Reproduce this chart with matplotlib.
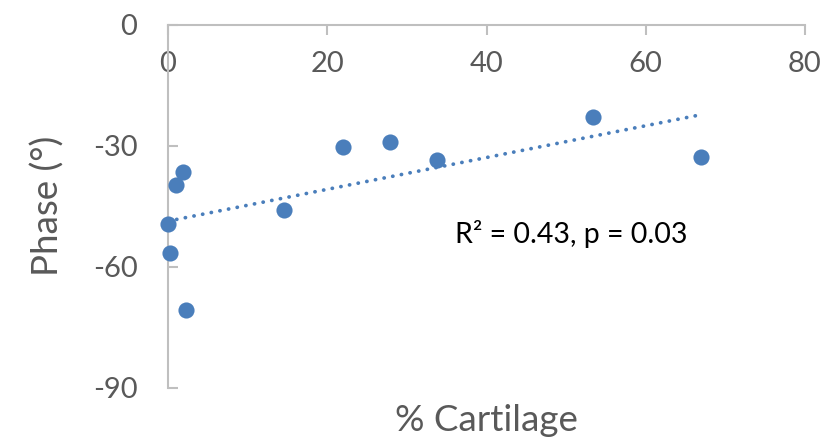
# phase vs % cartilage scatter with linear trendline

import numpy as np
import matplotlib
matplotlib.use('Agg')
import matplotlib.pyplot as plt

plt.rcParams['font.family'] = ['Lato', 'DejaVu Sans']
plt.rcParams['axes.unicode_minus'] = False

# data
cartilage = [0.0, 0.25, 1.0, 1.9, 2.3, 14.6, 22.0, 27.9, 33.8, 53.4, 67.0]
phase = [-49.4, -56.6, -39.7, -36.5, -70.7, -45.9, -30.3, -29.1, -33.5, -22.9, -32.8]

x_ticks = [0, 20, 40, 60, 80]
y_ticks = [-90, -60, -30, 0]
stats_text = 'R² = 0.43, p = 0.03'

blue = '#4A7EBB'
grey = '#BFBFBF'
label_grey = '#595959'

fig = plt.figure(figsize=(8.22, 4.41), dpi=100)
ax = fig.add_axes([0.2044, 0.1209, 0.7749, 0.8231])

ax.scatter(cartilage, phase, s=135, color=blue, zorder=3, linewidths=0, clip_on=False)

# linear trendline over the data range
k, b = np.polyfit(cartilage, phase, 1)
xt = np.array([min(cartilage), max(cartilage)])
ax.plot(xt, k * xt + b, color=blue, linewidth=2.7,
        linestyle=(0, (0.05, 2.3)), dash_capstyle='round', zorder=2)

ax.set_xlim(0, 80)
ax.set_ylim(-90, 0)
ax.set_xticks(x_ticks)
ax.set_yticks(y_ticks)

for side in ['right', 'bottom']:
    ax.spines[side].set_visible(False)
for side in ['left', 'top']:
    ax.spines[side].set_color(grey)
    ax.spines[side].set_linewidth(1.5)

ax.tick_params(axis='x', top=True, bottom=False, labeltop=True, labelbottom=False,
               direction='in', length=7, width=1.5, color=grey, pad=-38,
               labelsize=21, labelcolor=label_grey)
ax.tick_params(axis='y', direction='in', length=7, width=1.5, color=grey, pad=22,
               labelsize=21, labelcolor=label_grey)

ax.set_xlabel('% Cartilage', fontsize=26.5, color=label_grey, labelpad=12)
ax.xaxis.set_label_position('bottom')
ax.set_ylabel('Phase (°)', fontsize=26.5, color=label_grey, labelpad=20)

ax.text(36.0, -54.1, stats_text, fontsize=20.5, color='black', va='baseline')

fig.savefig('out.png', dpi=100)
